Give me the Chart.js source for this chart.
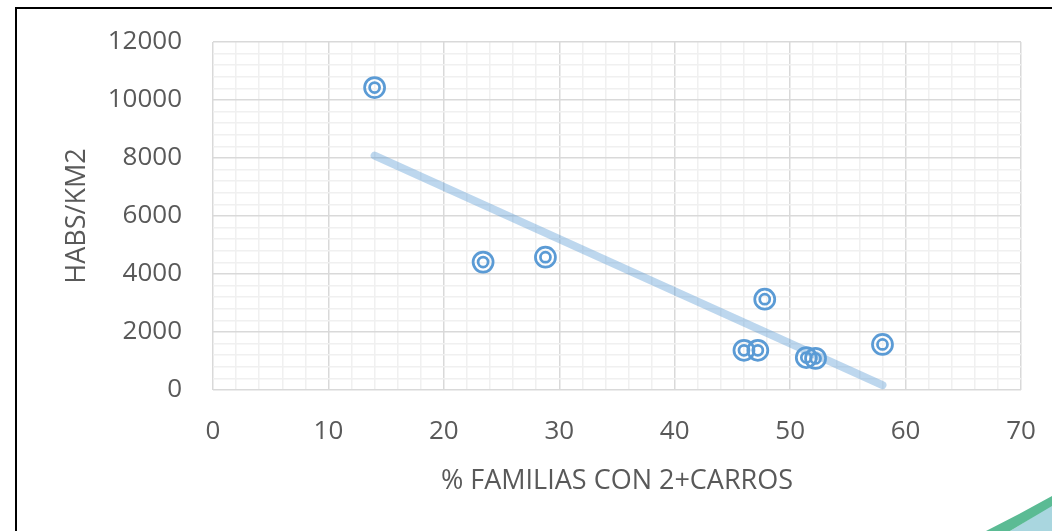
<!DOCTYPE html>
<html>
<head>
<meta charset="utf-8">
<script src="https://cdn.jsdelivr.net/npm/chart.js@4/dist/chart.umd.min.js"></script>
<style>
  html, body { margin: 0; padding: 0; background: #fff; }
  #wrap { position: relative; width: 1052px; height: 531px; }
</style>
</head>
<body>
<div id="wrap"><canvas id="myScatter" width="1052" height="531"></canvas></div>
<script>
// values
var familias = [14, 23.4, 28.8, 47.8, 46, 47.2, 51.4, 52.2, 58];
var habsKm2 = [10430, 4410, 4580, 3130, 1370, 1370, 1120, 1090, 1570];
var xTicks = [0, 10, 20, 30, 40, 50, 60, 70];
var yTicks = [0, 2000, 4000, 6000, 8000, 10000, 12000];

var blue = '#5b9bd5';
var labelGrey = '#595959';
var fontFam = '"Open Sans", "Noto Sans", sans-serif';

var points = familias.map(function(x, i) { return {x: x, y: habsKm2[i]}; });

// linear trendline (least squares), like Excel's
function trend(xs, ys) {
  var n = xs.length, mx = 0, my = 0, sxy = 0, sxx = 0;
  for (var i = 0; i < n; i++) { mx += xs[i]; my += ys[i]; }
  mx /= n; my /= n;
  for (var j = 0; j < n; j++) {
    sxy += (xs[j] - mx) * (ys[j] - my);
    sxx += (xs[j] - mx) * (xs[j] - mx);
  }
  var b = sxy / sxx, a = my - b * mx;
  var lo = Math.min.apply(null, xs), hi = Math.max.apply(null, xs);
  return [{x: lo, y: a + b * lo}, {x: hi, y: a + b * hi}];
}

// the frame round the chart and the slide decoration
var framePlugin = {
  id: 'frame',
  afterDraw: function(chart) {
    var ctx = chart.ctx;
    ctx.save();
    ctx.strokeStyle = '#000';
    ctx.lineWidth = 2;
    ctx.beginPath();
    ctx.moveTo(16, 540);
    ctx.lineTo(16, 8);
    ctx.lineTo(1060, 8);
    ctx.stroke();
    // swoosh bottom right
    ctx.fillStyle = '#a9d6df';
    ctx.beginPath();
    ctx.moveTo(1010, 531);
    ctx.quadraticCurveTo(1035, 516, 1052, 504);
    ctx.lineTo(1052, 531);
    ctx.closePath();
    ctx.fill();
    ctx.fillStyle = '#5bbb94';
    ctx.beginPath();
    ctx.moveTo(986, 531);
    ctx.quadraticCurveTo(1020, 514, 1052, 496);
    ctx.lineTo(1052, 506);
    ctx.quadraticCurveTo(1030, 519, 1010, 531);
    ctx.closePath();
    ctx.fill();
    ctx.restore();
  }
};

function gridColour(c) {
  return c.tick && c.tick.major ? '#d9d9d9' : '#f0f0f0';
}

var ctx = document.getElementById('myScatter').getContext('2d');
var myChart = new Chart(ctx, {
  type: 'scatter',
  data: {
    datasets: [{
      label: 'trend',
      type: 'line',
      data: trend(familias, habsKm2),
      borderColor: 'rgba(91,155,213,0.4)',
      borderWidth: 8,
      borderCapStyle: 'round',
      pointRadius: 0,
      fill: false,
      order: 0
    }, {
      label: 'outer',
      data: points,
      pointRadius: 10,
      pointBorderWidth: 2.75,
      pointBorderColor: blue,
      pointBackgroundColor: 'rgba(0,0,0,0)',
      order: 1
    }, {
      label: 'inner',
      data: points,
      pointRadius: 5,
      pointBorderWidth: 2.75,
      pointBorderColor: blue,
      pointBackgroundColor: 'rgba(0,0,0,0)',
      order: 1
    }]
  },
  options: {
    responsive: false,
    animation: false,
    layout: { padding: { top: 42, right: 31, left: 0, bottom: 0 } },
    plugins: { legend: { display: false }, tooltip: { enabled: false } },
    scales: {
      x: {
        type: 'linear',
        min: 0, max: 70,
        afterBuildTicks: function(axis) {
          var t = [];
          for (var v = 0; v <= 70; v += 2) t.push({value: v, major: xTicks.indexOf(v) >= 0});
          axis.ticks = t;
        },
        afterFit: function(axis) {
          axis.height = 141;
          axis.paddingLeft = 0;
          axis.paddingRight = 0;
        },
        border: { display: false },
        grid: { color: gridColour, lineWidth: 1.5, drawTicks: false },
        ticks: {
          autoSkip: false,
          maxRotation: 0,
          padding: 26,
          color: labelGrey,
          font: { family: fontFam, size: 26 },
          callback: function(v) { return xTicks.indexOf(v) >= 0 ? String(v) : ''; }
        },
        title: {
          display: true,
          text: '% FAMILIAS CON 2+CARROS',
          color: labelGrey,
          font: { family: fontFam, size: 27 },
          padding: { top: 0, bottom: 33 }
        }
      },
      y: {
        min: 0, max: 12000,
        afterBuildTicks: function(axis) {
          var t = [];
          for (var v = 0; v <= 12000; v += 400) t.push({value: v, major: yTicks.indexOf(v) >= 0});
          axis.ticks = t;
        },
        afterFit: function(axis) {
          axis.width = 213;
          axis.paddingTop = 0;
          axis.paddingBottom = 0;
        },
        border: { display: false },
        grid: { color: gridColour, lineWidth: 1.5, drawTicks: false },
        ticks: {
          autoSkip: false,
          padding: 31,
          color: labelGrey,
          font: { family: fontFam, size: 26 },
          callback: function(v) { return yTicks.indexOf(v) >= 0 ? String(v) : ''; }
        },
        title: {
          display: true,
          text: 'HABS/KM2',
          color: labelGrey,
          font: { family: fontFam, size: 27 },
          padding: { top: 61, bottom: 0 }
        }
      }
    }
  },
  plugins: [framePlugin]
});
</script>
</body>
</html>
